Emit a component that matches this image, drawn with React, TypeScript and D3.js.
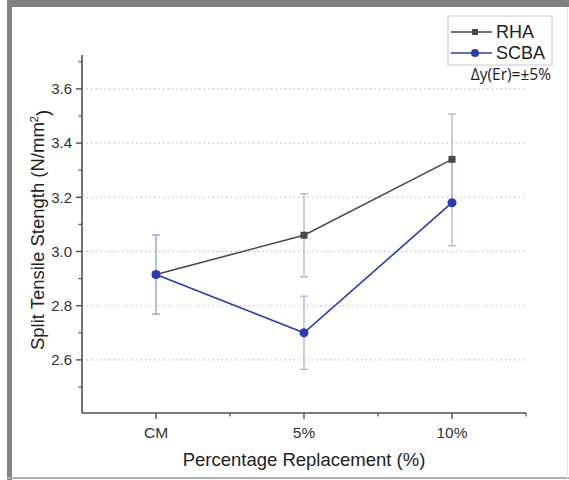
import { useEffect, useRef } from 'react'
import * as d3 from 'd3'

const categories = ['CM', '5%', '10%']
const rhaValues = [2.915, 3.06, 3.34]
const scbaValues = [2.915, 2.7, 3.18]
const rhaErr = [0.146, 0.153, 0.167]
const scbaErr = [0.146, 0.135, 0.159]
const yTicks = [2.6, 2.8, 3.0, 3.2, 3.4, 3.6]
const yMinorTicks = [2.5, 2.7, 2.9, 3.1, 3.3, 3.5, 3.7]
const legendNames = ['RHA', 'SCBA']

const W = 569
const H = 480

export default function App() {
  const svgRef = useRef<SVGSVGElement>(null)

  useEffect(() => {
    if (!svgRef.current) return
    const svg = d3.select(svgRef.current)
    svg.selectAll('*').remove()

    const font = '"Liberation Sans", Arial, sans-serif'
    const left = 82, right = 526, top = 55, bottom = 413

    // frame
    svg.append('rect').attr('x', 0).attr('y', 0).attr('width', W).attr('height', H).attr('fill', '#fff')
    svg.append('rect').attr('x', 7).attr('y', 0).attr('width', W - 7).attr('height', 7).attr('fill', '#808080')
    svg.append('rect').attr('x', 7).attr('y', 0).attr('width', 5).attr('height', H).attr('fill', '#808080')
    svg.append('rect').attr('x', 7).attr('y', 477).attr('width', W - 7).attr('height', 2).attr('fill', '#b0b0b0')
    svg.append('rect').attr('x', 567).attr('y', 7).attr('width', 1).attr('height', H - 7).attr('fill', '#e4e4e4')

    const x = d3.scaleLinear().domain([0.5, 3.5]).range([left, right])
    const y = d3.scaleLinear().domain([2.404, 3.725]).range([bottom, top])

    // grid
    svg.append('g').selectAll('line').data(yTicks).join('line')
      .attr('x1', left).attr('x2', right)
      .attr('y1', d => y(d)).attr('y2', d => y(d))
      .attr('stroke', '#b8b8b8').attr('stroke-width', 1).attr('stroke-dasharray', '1.5,3')

    // axes
    const axisColor = '#505050'
    svg.append('line').attr('x1', left).attr('x2', left).attr('y1', top).attr('y2', bottom)
      .attr('stroke', axisColor).attr('stroke-width', 1.6)
    svg.append('line').attr('x1', left).attr('x2', right).attr('y1', bottom).attr('y2', bottom)
      .attr('stroke', axisColor).attr('stroke-width', 1.6)

    svg.append('g').selectAll('line').data(yTicks).join('line')
      .attr('x1', left - 6).attr('x2', left).attr('y1', d => y(d)).attr('y2', d => y(d))
      .attr('stroke', axisColor).attr('stroke-width', 1.4)
    svg.append('g').selectAll('line').data(yMinorTicks).join('line')
      .attr('x1', left - 3.5).attr('x2', left).attr('y1', d => y(d)).attr('y2', d => y(d))
      .attr('stroke', axisColor).attr('stroke-width', 1.2)
    svg.append('g').selectAll('text').data(yTicks).join('text')
      .attr('x', left - 10).attr('y', d => y(d)).attr('dy', '0.35em')
      .attr('text-anchor', 'end').attr('font-family', font).attr('font-size', 15).attr('fill', '#333')
      .text(d => d.toFixed(1))

    svg.append('g').selectAll('line').data(categories).join('line')
      .attr('x1', (_, i) => x(i + 1)).attr('x2', (_, i) => x(i + 1))
      .attr('y1', bottom).attr('y2', bottom + 6)
      .attr('stroke', axisColor).attr('stroke-width', 1.4)
    svg.append('g').selectAll('line').data([1.5, 2.5, 3.5]).join('line')
      .attr('x1', d => x(d)).attr('x2', d => x(d))
      .attr('y1', bottom).attr('y2', bottom + 3.5)
      .attr('stroke', axisColor).attr('stroke-width', 1.2)
    svg.append('g').selectAll('text').data(categories).join('text')
      .attr('x', (_, i) => x(i + 1)).attr('y', bottom + 20).attr('dy', '0.35em')
      .attr('text-anchor', 'middle').attr('font-family', font).attr('font-size', 15.5).attr('fill', '#333')
      .text(d => d)

    svg.append('text').attr('x', 304).attr('y', 460).attr('dy', '0.35em')
      .attr('text-anchor', 'middle').attr('font-family', font).attr('font-size', 18.5).attr('fill', '#222')
      .text('Percentage Replacement (%)')

    const yl = svg.append('text').attr('transform', 'translate(38,230) rotate(-90)').attr('dy', '0.35em')
      .attr('text-anchor', 'middle').attr('font-family', font).attr('font-size', 18.5).attr('fill', '#222')
    yl.append('tspan').text('Split Tensile Stength (N/mm')
    yl.append('tspan').attr('font-size', 11).attr('dy', '-0.6em').text('2')
    yl.append('tspan').attr('dy', '0.6em').text(')')

    const series = [
      { values: rhaValues, err: rhaErr, color: '#4a4a4a', errColor: '#b5b5b5', marker: 'square' },
      { values: scbaValues, err: scbaErr, color: '#2a3db0', errColor: '#aab2e2', marker: 'circle' },
    ]

    // error bars
    series.forEach(s => {
      const g = svg.append('g')
      s.values.forEach((v, i) => {
        const cx = x(i + 1)
        const y1 = y(v - s.err[i]), y2 = y(v + s.err[i])
        g.append('line').attr('x1', cx).attr('x2', cx).attr('y1', y1).attr('y2', y2)
          .attr('stroke', s.errColor).attr('stroke-width', 1.3)
        ;[y1, y2].forEach(yy => g.append('line').attr('x1', cx - 4).attr('x2', cx + 4).attr('y1', yy).attr('y2', yy)
          .attr('stroke', s.errColor).attr('stroke-width', 1.3))
      })
    })

    const line = d3.line<number>().x((_, i) => x(i + 1)).y(d => y(d))
    series.forEach(s => {
      svg.append('path').datum(s.values).attr('d', line)
        .attr('fill', 'none').attr('stroke', s.color).attr('stroke-width', 1.6)
    })
    series.forEach(s => {
      const g = svg.append('g')
      s.values.forEach((v, i) => {
        if (s.marker === 'square') {
          g.append('rect').attr('x', x(i + 1) - 3.5).attr('y', y(v) - 3.5).attr('width', 7).attr('height', 7).attr('fill', s.color)
        } else {
          g.append('circle').attr('cx', x(i + 1)).attr('cy', y(v)).attr('r', 4.5).attr('fill', s.color)
        }
      })
    })

    // legend
    svg.append('rect').attr('x', 448).attr('y', 16).attr('width', 104).attr('height', 49)
      .attr('fill', '#fff').attr('stroke', '#c8c8c8').attr('stroke-width', 1)
    series.forEach((s, i) => {
      const ly = 32 + i * 21
      svg.append('line').attr('x1', 451).attr('x2', 492).attr('y1', ly).attr('y2', ly)
        .attr('stroke', s.color).attr('stroke-width', 1.4)
      if (s.marker === 'square') {
        svg.append('rect').attr('x', 472).attr('y', ly - 3).attr('width', 6).attr('height', 6).attr('fill', s.color)
      } else {
        svg.append('circle').attr('cx', 475).attr('cy', ly).attr('r', 4).attr('fill', s.color)
      }
      svg.append('text').attr('x', 496).attr('y', ly).attr('dy', '0.35em')
        .attr('font-family', font).attr('font-size', 18).attr('fill', '#222').text(legendNames[i])
    })
    svg.append('text').attr('x', 551).attr('y', 75).attr('dy', '0.35em').attr('text-anchor', 'end')
      .attr('font-family', '"Open Sans", sans-serif').attr('font-size', 15.5).attr('fill', '#222')
      .text('Δy(Er)=±5%')
  }, [])

  return (
    <div style={{ position: 'absolute', left: 0, top: 0 }}>
      <svg ref={svgRef} width={W} height={H} style={{ display: 'block' }}></svg>
    </div>
  )
}
